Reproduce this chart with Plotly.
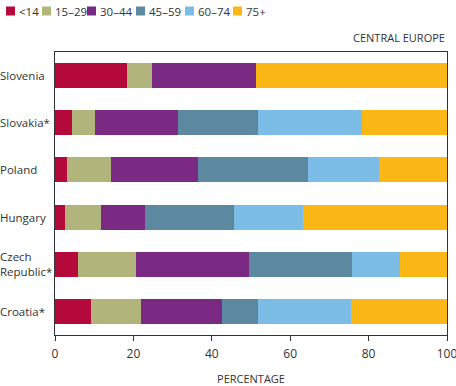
import plotly.graph_objects as go

countries = ["Slovenia", "Slovakia*", "Poland", "Hungary", "Czech Republic*", "Croatia*"]
country_labels = ["Slovenia", "Slovakia*", "Poland", "Hungary", "Czech<br>Republic*", "Croatia*"]
age_groups = ["<14", "15–29", "30–44", "45–59", "60–74", "75+"]
colors = ["#B4093A", "#B1B57B", "#7B2A84", "#5C88A0", "#7BBDE6", "#FBB716"]

v_lt14 = [18.3, 4.3, 3.0, 2.5, 5.8, 9.1]
v_15_29 = [6.4, 5.8, 11.2, 9.2, 14.8, 12.8]
v_30_44 = [26.6, 21.2, 22.3, 11.2, 28.9, 20.7]
v_45_59 = [0.0, 20.5, 28.1, 22.8, 26.3, 9.2]
v_60_74 = [0.0, 26.6, 18.1, 17.6, 12.2, 23.8]
v_75p = [48.7, 21.6, 17.3, 36.7, 12.0, 24.4]
series = [v_lt14, v_15_29, v_30_44, v_45_59, v_60_74, v_75p]

x_ticks = [0, 20, 40, 60, 80, 100]

FONT = "Open Sans"
TXT = "#333333"

W, H = 456, 386
ML, MR, MT, MB = 55, 9, 52, 51
PW, PH = W - ML - MR, H - MT - MB

def px(x):
    return (x - ML) / PW

def py(y):
    return (H - MB - y) / PH

fig = go.Figure()
for name, vals, col in zip(age_groups, series, colors):
    fig.add_trace(go.Bar(
        y=countries, x=vals, name=name, orientation="h",
        marker=dict(color=col, line=dict(width=0)), width=0.53,
        showlegend=False, hoverinfo="x+y+name",
    ))

annotations = []
shapes = []
# country labels, left aligned
for c, lab in zip(countries, country_labels):
    annotations.append(dict(
        x=px(0), xref="paper", y=c, yref="y", text=lab, showarrow=False,
        xanchor="left", yanchor="middle", align="left", xshift=-2,
        font=dict(family=FONT, size=11.5, color=TXT),
    ))

# legend
leg_x = [6, 42, 87, 136, 185, 233]
for lx, name, col in zip(leg_x, age_groups, colors):
    shapes.append(dict(
        type="rect", xref="paper", yref="paper",
        x0=px(lx), x1=px(lx + 9), y0=py(15.5), y1=py(6.5),
        fillcolor=col, line=dict(width=0),
    ))
    annotations.append(dict(
        x=px(lx + 11), xref="paper", y=py(11), yref="paper",
        text=name.replace("<", "&lt;"), showarrow=False,
        xanchor="left", yanchor="middle",
        font=dict(family=FONT, size=11.5, color=TXT),
    ))

annotations.append(dict(
    x=1, xref="paper", y=py(37), yref="paper", text="CENTRAL EUROPE",
    showarrow=False, xanchor="right", yanchor="middle",
    font=dict(family=FONT, size=11, color=TXT),
))

fig.update_layout(
    width=W, height=H,
    margin=dict(l=ML, r=MR, t=MT, b=MB, pad=0),
    barmode="stack", bargap=0.47,
    plot_bgcolor="white", paper_bgcolor="white",
    showlegend=False,
    annotations=annotations, shapes=shapes,
    font=dict(family=FONT, color=TXT),
)
fig.update_xaxes(
    range=[0, 100], tickvals=x_ticks, ticktext=[str(t) for t in x_ticks],
    showgrid=False, zeroline=False, automargin=False,
    showline=True, linecolor="#333333", linewidth=1, mirror=True,
    ticks="outside", ticklen=5, tickcolor="#333333", ticklabelstandoff=3,
    ticklabeloverflow="allow",
    tickfont=dict(family=FONT, size=12, color=TXT),
    title=dict(text="PERCENTAGE", font=dict(family=FONT, size=11, color=TXT), standoff=16),
)
fig.update_yaxes(
    categoryorder="array", categoryarray=countries[::-1], automargin=False,
    range=[-0.5, 5.5], showticklabels=False, showgrid=False, zeroline=False,
    showline=True, linecolor="#333333", linewidth=1, mirror=True, ticks="",
)

fig.write_html("out.html", config={"displayModeBar": False})
with open("out.html", "r", encoding="utf-8") as f:
    html = f.read()
html = html.replace("<head>", "<head><style>html,body{margin:0;padding:0;overflow:hidden;}</style>", 1)
with open("out.html", "w", encoding="utf-8") as f:
    f.write(html)
